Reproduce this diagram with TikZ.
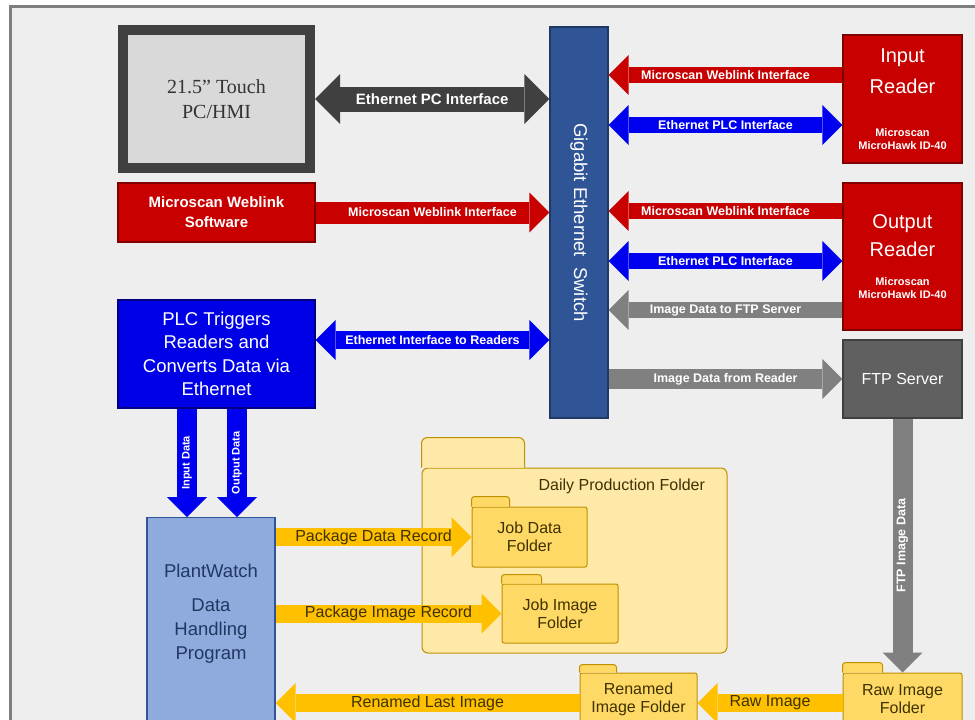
\documentclass[tikz,border=0pt]{standalone}
\usepackage{fontspec}
\usepackage{graphicx}
\setmainfont{Liberation Sans}
\newfontfamily\pcserif{Liberation Serif}
\usetikzlibrary{arrows.meta,positioning}
\newcommand\fsz[2]{\fontsize{#1}{#2}\selectfont}
\definecolor{bgcol}{HTML}{EEEEEE}
\definecolor{frcol}{HTML}{7F7F7F}
\definecolor{pcdark}{HTML}{404040}
\definecolor{pcfill}{HTML}{D9D9D9}
\definecolor{pctext}{HTML}{333333}
\definecolor{rdfill}{HTML}{C80000}
\definecolor{rddraw}{HTML}{7F0000}
\definecolor{arblue}{HTML}{0000F0}
\definecolor{plcblue}{HTML}{0000E6}
\definecolor{plcdraw}{HTML}{000080}
\definecolor{swblue}{HTML}{2F5597}
\definecolor{swdraw}{HTML}{1F3864}
\definecolor{argrey}{HTML}{808080}
\definecolor{ftpgrey}{HTML}{606060}
\definecolor{ftpdraw}{HTML}{404040}
\definecolor{pwfill}{HTML}{8FAADC}
\definecolor{pwdraw}{HTML}{2F5597}
\definecolor{pwtext}{HTML}{1F3864}
\definecolor{dpfill}{HTML}{FFE9A8}
\definecolor{fldfill}{HTML}{FFD966}
\definecolor{flddraw}{HTML}{BF9000}
\definecolor{orarrow}{HTML}{FFC000}
\definecolor{fldtext}{HTML}{3F3200}
\begin{document}
\begin{tikzpicture}[x=1pt,y=-1pt,
  box/.style={draw, inner sep=0pt, align=center, line width=1.2pt},
  redbox/.style={box, fill=rdfill, draw=rddraw, text=white},
  folder/.style={box, draw=flddraw, fill=fldfill, line width=1pt, rounded corners=2pt,
    text=fldtext, font=\fsz{16}{18}},
  tab/.style={draw=flddraw, fill=fldfill, line width=1pt, rounded corners=3pt},
  fat/.style={line width=18pt, >={Triangle[length=20pt,width=40pt,line width=0pt]}},
  alab/.style={text=white, font=\fsz{12.5}{14}\bfseries},
  olab/.style={text=fldtext, font=\fsz{16}{18}}]
	\useasboundingbox (0,0) rectangle (975,720);
	\fill[white] (0,0) rectangle (975,720);
	\filldraw[fill=bgcol, draw=frcol, line width=3pt] (10,6.5) rectangle (990,760);
	% left column
	\node[box, draw=pcdark, fill=pcfill, line width=10pt, minimum width=187pt, minimum height=138pt,
	  text=pctext, font=\pcserif\fsz{20}{25}] (pc) at (216.5,99) {21.5” Touch\\PC/HMI};
	\node[redbox, minimum width=197pt, minimum height=59pt, font=\fsz{15}{20}\bfseries] (wls) at (216.5,212.5) {Microscan Weblink\\Software};
	\node[box, fill=plcblue, draw=plcdraw, text=white, minimum width=197pt, minimum height=108pt,
	  font=\fsz{18.5}{23.5}] (plc) at (216.5,354) {PLC Triggers\\Readers and\\Converts Data via\\Ethernet};
	\node[box, fill=pwfill, draw=pwdraw, minimum width=128pt, minimum height=240pt, anchor=north] (pw) at (211,517) {};
	\node[text=pwtext, font=\fsz{18.5}{24}, text width=128pt, align=center] (pwlbl) at (211,614) {PlantWatch\par\vspace{10pt}Data\\Handling\\Program\par};
	% switch
	\node[box, fill=swblue, draw=swdraw, text=white, minimum width=58pt, minimum height=391pt,
	  font=\fsz{18.5}{22}] (sw) at (579,222.5) {\rotatebox{-90}{Gigabit Ethernet\ \ Switch}};
	% right column
	\node[redbox, minimum width=119pt, minimum height=128pt, text width=119pt] (inrd) at (902.5,99)
	  {\fsz{20}{31}Input\\Reader\par\vspace{30pt}\fsz{11}{13}\bfseries Microscan\\MicroHawk ID-40\par};
	\node[redbox, minimum width=119pt, minimum height=147pt, text width=119pt] (outrd) at (902.5,256.5)
	  {\fsz{20}{28}Output\\Reader\par\vspace{16pt}\fsz{11}{13}\bfseries Microscan\\MicroHawk ID-40\par};
	\node[box, fill=ftpgrey, draw=ftpdraw, text=white, minimum width=119pt, minimum height=78pt,
	  font=\fsz{16}{19}] (ftp) at (902.5,379) {FTP Server};
	% folders
	\node[folder, fill=dpfill, rounded corners=6pt, minimum width=305pt, minimum height=185pt] (dpf) at (574.5,560.5) {};
	\filldraw[tab, fill=dpfill, rounded corners=6pt] (dpf.north west) -- ++(0,-30) -- ++(103,0) -- ++(0,30);
	\node[text=fldtext, font=\fsz{16}{18}, anchor=north east] (dptxt) at ([xshift=-19pt,yshift=-8pt]dpf.north east) {Daily Production Folder};
	\node[folder, minimum width=115pt, minimum height=60pt] (jd) at (529.5,537) {Job Data\\Folder};
	\node[folder, minimum width=116pt, minimum height=59pt] (ji) at (560,613.5) {Job Image\\Folder};
	\node[folder, minimum width=117pt, minimum height=52pt] (renf) at (638.5,699) {Renamed\\Image Folder};
	\node[folder, minimum width=119pt, minimum height=52pt] (rawf) at (902.5,699) {Raw Image\\Folder};
	\foreach \f/\w/\h in {jd/38/10, ji/40/9, renf/37/8, rawf/40/10}
	  \filldraw[tab] (\f.north west) -- ++(0,-\h) -- ++(\w,0) -- ++(0,\h);
	% connectors
	\draw[fat, <->, line width=25pt, >={Triangle[length=25pt,width=50pt,line width=0pt]}, draw=pcdark]
	  (pc.east) -- (pc.east -| sw.west) node[midway, alab, font=\fsz{15}{17}\bfseries] {Ethernet PC Interface};
	\draw[fat, ->, line width=22pt, draw=rdfill] (wls.east) -- (wls.east -| sw.west) node[midway, alab] {Microscan Weblink Interface};
	\draw[fat, <->, draw=arblue] ([yshift=14pt]plc.east) -- ([yshift=14pt]plc.east -| sw.west) node[midway, alab] {Ethernet Interface to Readers};
	\foreach \dx/\txt in {-29.5/Input Data, 20.5/Output Data}
	  \draw[fat, ->, line width=20pt, draw=arblue] ([xshift=\dx pt]plc.south) -- ([xshift=\dx pt]plc.south |- pw.north)
	    node[midway, rotate=90, alab, font=\fsz{11}{13}\bfseries] {\txt};
	\draw[fat, ->, line width=16pt, draw=rdfill] ([yshift=24pt]inrd.west) -- ([yshift=24pt]inrd.west -| sw.east) node[midway, alab] {Microscan Weblink Interface};
	\draw[fat, <->, line width=16pt, draw=arblue] ([yshift=-26pt]inrd.west) -- ([yshift=-26pt]inrd.west -| sw.east) node[midway, alab] {Ethernet PLC Interface};
	\draw[fat, ->, line width=16pt, draw=rdfill] ([yshift=45.5pt]outrd.west) -- ([yshift=45.5pt]outrd.west -| sw.east) node[midway, alab] {Microscan Weblink Interface};
	\draw[fat, <->, line width=16pt, draw=arblue] ([yshift=-4.5pt]outrd.west) -- ([yshift=-4.5pt]outrd.west -| sw.east) node[midway, alab] {Ethernet PLC Interface};
	\draw[fat, ->, line width=16pt, draw=argrey] ([yshift=-53.5pt]outrd.west) -- ([yshift=-53.5pt]outrd.west -| sw.east) node[midway, alab] {Image Data to FTP Server};
	\draw[fat, ->, line width=20pt, draw=argrey] (ftp.west -| sw.east) -- (ftp.west) node[midway, alab] {Image Data from Reader};
	\draw[fat, ->, line width=20pt, draw=argrey] (ftp.south) -- (rawf.north) node[midway, rotate=90, alab] {FTP Image Data};
	\draw[fat, ->, draw=orarrow] (pw.east |- jd.west) -- (jd.west) node[midway, olab] {Package Data Record};
	\draw[fat, ->, draw=orarrow] (pw.east |- ji.west) -- (ji.west) node[midway, olab] {Package Image Record};
	\draw[fat, ->, draw=orarrow] ([yshift=-4pt]renf.west) -- ([yshift=-4pt]renf.west -| pw.east) node[midway, olab] {Renamed Last Image};
	\draw[fat, ->, draw=orarrow] ([yshift=-4pt]rawf.west) -- ([yshift=-4pt]rawf.west -| renf.east) node[midway, olab] {Raw Image};
\end{tikzpicture}
\end{document}
